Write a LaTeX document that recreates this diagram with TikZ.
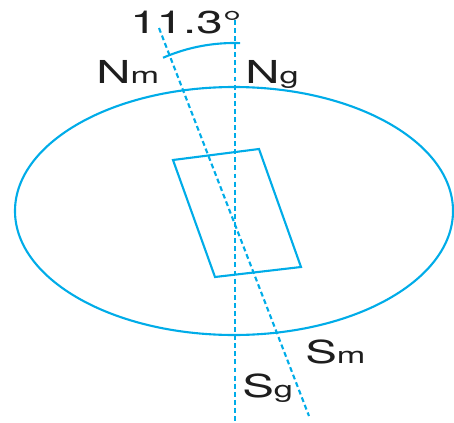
\documentclass[tikz,border=0pt]{standalone}
\usepackage{fontspec}
\setmainfont{TeX Gyre Heros}
\usetikzlibrary{calc}
\definecolor{compassblue}{RGB}{0,172,232}
\definecolor{labelgray}{RGB}{30,30,30}
\newcommand\polesub[1]{{\fontsize{13}{13}\selectfont #1}}
\newcommand\widetext[1]{\scalebox{1.5}[1]{#1}}

\begin{document}
\begin{tikzpicture}[x=0.02cm,y=-0.02cm,
outline/.style={draw=compassblue,line width=1.2pt},
axisline/.style={draw=compassblue,line width=1.2pt,dash pattern=on 2.8pt off 1.8pt},
pole/.style={inner sep=0pt,anchor=base west,text=labelgray,font=\fontsize{18}{18}\selectfont}]
\useasboundingbox (0,0) rectangle (454,423);
% ground and north lines
\coordinate (ng) at (235,20);
\coordinate (sg) at (235,421);
\coordinate (nm) at (159,28);
\coordinate (sm) at (309,416);
\coordinate (cross) at (234,221);
% field outline
\draw[outline] (234,211) ellipse [x radius=219,y radius=124];
% needle box
\draw[outline] (173,160) -- (259,149) -- (301,267) -- (215,277) -- cycle;
\draw[axisline] (ng) -- (sg);
\draw[axisline] (nm) -- (sm);
% angle between the two norths
\draw[outline] (cross) ++(-113.5:178) arc[start angle=-113.5,end angle=-88,radius=178];
\node[pole](angle) at (130,33) {\widetext{11.3°}};
\node[pole](nmlabel) at (96,83) {\widetext{N\polesub{m}}};
\node[pole](nglabel) at (245,83) {\widetext{N\polesub{g}}};
\node[pole](smlabel) at (305,363) {\widetext{S\polesub{m}}};
\node[pole](sglabel) at (242,397) {\widetext{S\polesub{g}}};
\end{tikzpicture}
\end{document}
